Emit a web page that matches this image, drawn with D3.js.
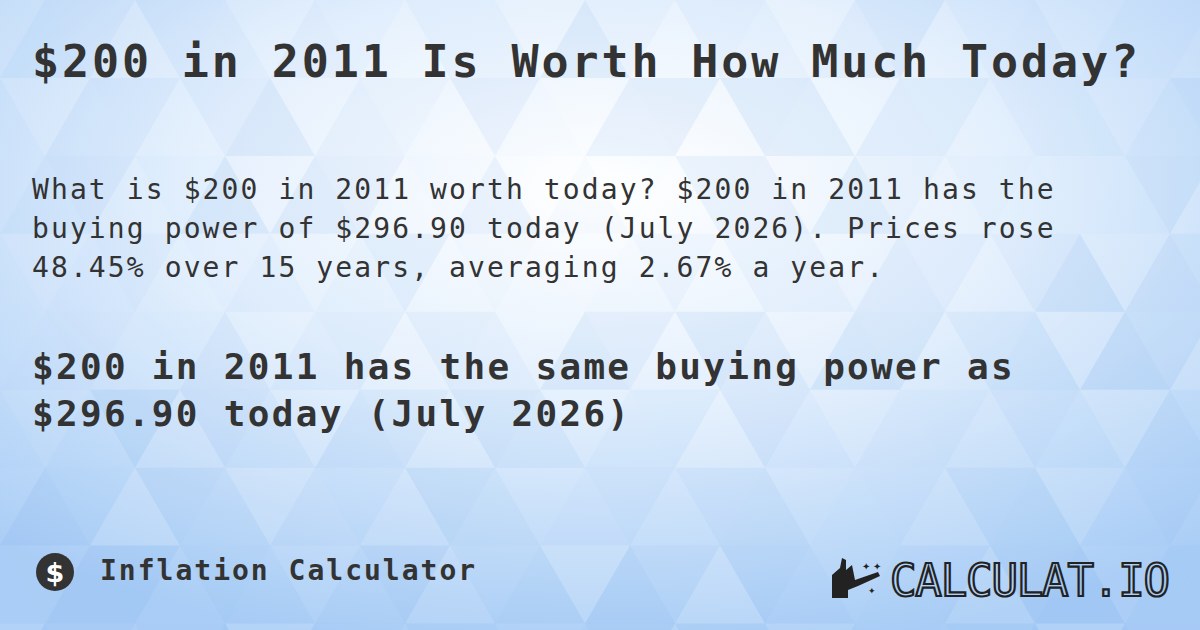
<!DOCTYPE html>
<html><head><meta charset="utf-8">
<script src="https://cdn.jsdelivr.net/npm/d3@7"></script>
<style>body{margin:0}svg{display:block}</style></head>
<body><svg id="c" width="1200" height="630"></svg>
<script>
const title = "$200 in 2011 Is Worth How Much Today?";
const paragraph = ["What is $200 in 2011 worth today? $200 in 2011 has the",
  "buying power of $296.90 today (July 2026). Prices rose",
  "48.45% over 15 years, averaging 2.67% a year."];
const headline = ["$200 in 2011 has the same buying power as", "$296.90 today (July 2026)"];
const footer = "Inflation Calculator";
const brand = "CALCULAT.IO";

const svg = d3.select("#c");
const W = 1200, H = 630;
const defs = svg.append("defs");
const g = defs.append("radialGradient").attr("id","bg").attr("cx","50%").attr("cy","30%").attr("r","75%");
g.append("stop").attr("offset","0%").attr("stop-color","#ffffff");
g.append("stop").attr("offset","45%").attr("stop-color","#e4f0fd");
g.append("stop").attr("offset","100%").attr("stop-color","#a9cdf6");
svg.append("rect").attr("width",W).attr("height",H).attr("fill","url(#bg)");

const s = 90, h = s*Math.sqrt(3)/2;
const tris = [];
let seed = 7; const rnd = () => (seed = (seed*9301+49297)%233280)/233280;
for (let r=-1; r*h < H+h; r++) for (let c=-1; c*s/2 < W+s; c++) {
  const x = c*s/2 + (r%2? s/2:0), y = r*h;
  const up = (c%2===0);
  const pts = up ? [[x,y+h],[x+s/2,y],[x+s,y+h]] : [[x,y],[x+s,y],[x+s/2,y+h]];
  tris.push({pts, o: rnd()*0.22});
}
svg.append("g").selectAll("path").data(tris).join("path")
  .attr("d", d => "M"+d.pts.map(p=>p.join(",")).join("L")+"Z")
  .attr("fill", (d,i) => i%3===0 ? "#ffffff" : "#6fa8e8").attr("fill-opacity", d => d.o*0.6);

const mono = "'DejaVu Sans Mono', monospace";
svg.append("text").attr("x",32).attr("y",77).attr("font-family",mono).attr("font-weight","bold")
  .attr("font-size",45).attr("fill","#333").attr("textLength",1106).text(title);
svg.append("g").selectAll("text").data(paragraph).join("text")
  .attr("x",32).attr("y",(d,i)=>199+i*39).attr("font-family",mono).attr("font-size",28)
  .attr("letter-spacing",2.1).attr("fill","#333").text(d=>d);
svg.append("g").selectAll("text").data(headline).join("text")
  .attr("x",32).attr("y",(d,i)=>379+i*47).attr("font-family",mono).attr("font-weight","bold")
  .attr("font-size",36).attr("letter-spacing",2.3).attr("fill","#333").text(d=>d);

svg.append("circle").attr("cx",55).attr("cy",572).attr("r",19).attr("fill","#333");
svg.append("text").attr("x",55).attr("y",582).attr("text-anchor","middle").attr("font-family","DejaVu Sans")
  .attr("font-weight","bold").attr("font-size",27).attr("fill","#fff").text("$");
svg.append("text").attr("x",100).attr("y",580).attr("font-family",mono).attr("font-weight","bold")
  .attr("font-size",28).attr("letter-spacing",2).attr("fill","#333").text(footer);

const b = svg.append("g").attr("fill","#222");
b.append("path").attr("d","M832,598 L832,575 L840,568 L842,558 L846,560 L846,570 L852,565 L855,580 L878,572 L880,576 L858,586 L848,590 L848,598 Z");
b.append("text").attr("x",862).attr("y",570).attr("font-size",10).text("✦ ✦");
b.append("text").attr("x",868).attr("y",594).attr("font-size",9).text("✦");
svg.append("text").attr("x",890).attr("y",596).attr("font-family",mono).attr("font-size",44)
  .attr("fill","none").attr("stroke","#222").attr("stroke-width",2.2).attr("textLength",280).text(brand);
</script></body></html>
